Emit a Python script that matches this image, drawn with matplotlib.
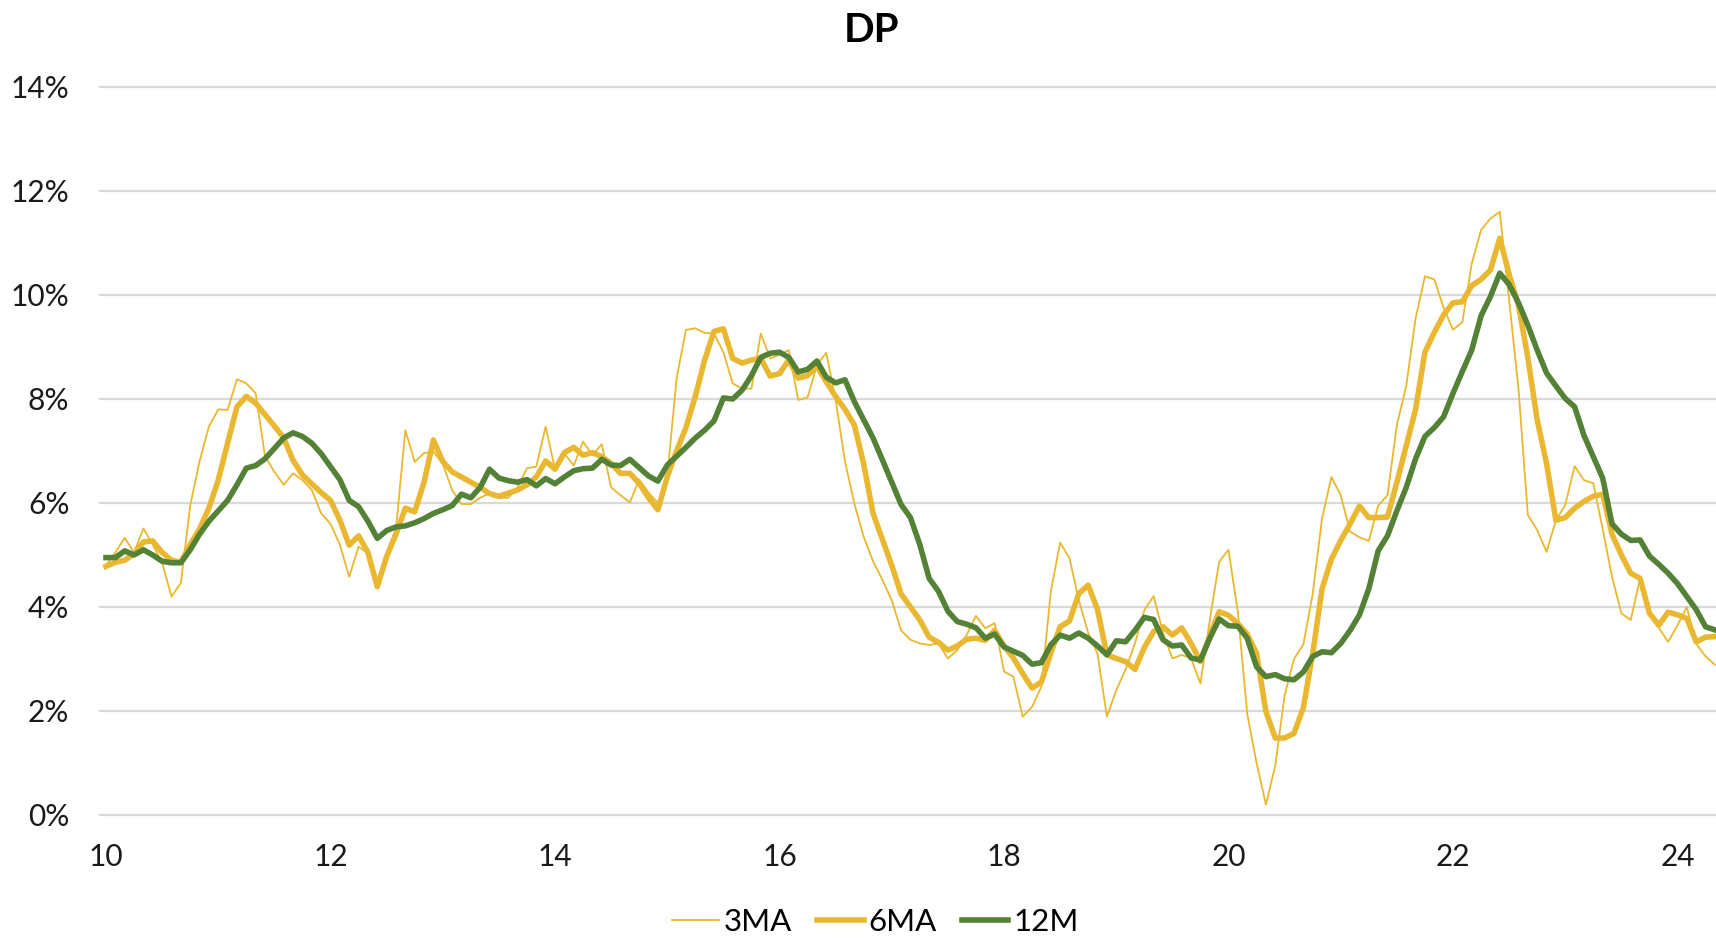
import numpy as np
import matplotlib
matplotlib.use("Agg")
import matplotlib.pyplot as plt

# monthly values, Jan 2010 .. May 2024 (%)
ma3 = [4.8, 5.05, 5.33, 5.05, 5.51, 5.2, 4.85, 4.2, 4.46, 5.95, 6.8, 7.47,
       7.8, 7.79, 8.38, 8.3, 8.11, 6.9, 6.6, 6.35, 6.57, 6.44, 6.25, 5.8,
       5.6, 5.2, 4.58, 5.16, 5.03, 4.45, 5.03, 5.5, 7.4, 6.79, 6.96, 6.99,
       6.75, 6.25, 5.98, 5.98, 6.1, 6.19, 6.1, 6.1, 6.3, 6.67, 6.7, 7.47,
       6.65, 6.95, 6.72, 7.18, 6.92, 7.13, 6.3, 6.15, 6.01, 6.45, 6.2, 6.0,
       6.5, 8.4, 9.33, 9.36, 9.27, 9.26, 8.9, 8.3, 8.2, 8.2, 9.26, 8.78,
       8.85, 8.94, 7.98, 8.03, 8.65, 8.89, 7.98, 6.8, 5.99, 5.35, 4.88, 4.52,
       4.13, 3.55, 3.37, 3.3, 3.27, 3.3, 3.01, 3.17, 3.46, 3.83, 3.59, 3.69,
       2.76, 2.66, 1.89, 2.08, 2.47, 4.29, 5.24, 4.94, 4.13, 3.5, 3.1, 1.89,
       2.4, 2.8, 3.3, 3.94, 4.21, 3.5, 3.01, 3.08, 3.01, 2.53, 3.75, 4.87,
       5.1, 3.9, 1.95, 1.0, 0.2, 0.95, 2.3, 3.0, 3.28, 4.25, 5.7, 6.5,
       6.15, 5.45, 5.34, 5.27, 5.95, 6.15, 7.5, 8.25, 9.55, 10.36, 10.3, 9.75,
       9.33, 9.48, 10.6, 11.25, 11.47, 11.6, 9.9, 8.2, 5.77, 5.48, 5.06, 5.67,
       5.96, 6.71, 6.44, 6.38, 5.5, 4.58, 3.88, 3.75, 4.55, 3.9, 3.6, 3.33,
       3.65, 4.0, 3.29, 3.05, 2.89]

ma6 = [4.78, 4.86, 4.9, 5.02, 5.25, 5.27, 5.05, 4.9, 4.86, 5.2, 5.5, 5.9,
       6.44, 7.15, 7.85, 8.05, 7.92, 7.7, 7.48, 7.25, 6.82, 6.54, 6.37, 6.2,
       6.05, 5.67, 5.19, 5.37, 5.05, 4.39, 4.97, 5.4, 5.9, 5.83, 6.4, 7.21,
       6.8, 6.6, 6.5, 6.4, 6.3, 6.18, 6.13, 6.19, 6.25, 6.35, 6.5, 6.81,
       6.65, 6.97, 7.07, 6.92, 6.97, 6.89, 6.76, 6.57, 6.57, 6.38, 6.1, 5.87,
       6.5, 7.0, 7.45, 8.05, 8.75, 9.3, 9.35, 8.78, 8.69, 8.75, 8.78, 8.44,
       8.49, 8.75, 8.4, 8.45, 8.63, 8.33, 8.05, 7.8, 7.5, 6.75, 5.8, 5.3,
       4.8, 4.25, 4.0, 3.75, 3.42, 3.32, 3.17, 3.25, 3.38, 3.4, 3.36, 3.55,
       3.25, 3.02, 2.72, 2.44, 2.56, 3.11, 3.62, 3.73, 4.26, 4.42, 3.95, 3.08,
       3.01, 2.95, 2.8, 3.22, 3.53, 3.62, 3.46, 3.6, 3.3, 2.95, 3.45, 3.91,
       3.84, 3.68, 3.48, 3.11, 1.99, 1.48, 1.48, 1.57, 2.06, 3.1, 4.35, 4.92,
       5.28, 5.6, 5.94, 5.72, 5.72, 5.73, 6.4, 7.1, 7.8, 8.9, 9.28, 9.62,
       9.85, 9.87, 10.18, 10.3, 10.48, 11.09, 10.4, 9.8, 8.8, 7.6, 6.76, 5.67,
       5.72, 5.9, 6.03, 6.13, 6.17, 5.4, 5.0, 4.65, 4.55, 3.88, 3.65, 3.9,
       3.85, 3.78, 3.33, 3.42, 3.43]

m12 = [4.95, 4.95, 5.08, 5.0, 5.1, 5.0, 4.88, 4.85, 4.85, 5.1, 5.4, 5.65,
       5.85, 6.05, 6.35, 6.67, 6.72, 6.85, 7.05, 7.25, 7.35, 7.28, 7.15, 6.95,
       6.7, 6.45, 6.05, 5.93, 5.65, 5.32, 5.47, 5.54, 5.56, 5.62, 5.7, 5.8,
       5.87, 5.95, 6.17, 6.1, 6.3, 6.65, 6.48, 6.43, 6.4, 6.45, 6.33, 6.47,
       6.37, 6.5, 6.62, 6.66, 6.67, 6.84, 6.73, 6.72, 6.84, 6.68, 6.52, 6.42,
       6.73, 6.9, 7.07, 7.25, 7.4, 7.58, 8.02, 8.0, 8.17, 8.45, 8.8, 8.88,
       8.9, 8.8, 8.52, 8.57, 8.73, 8.42, 8.31, 8.37, 7.95, 7.6, 7.25, 6.83,
       6.4, 5.97, 5.72, 5.2, 4.55, 4.3, 3.92, 3.72, 3.67, 3.6, 3.4, 3.48,
       3.23, 3.15, 3.07, 2.9, 2.93, 3.27, 3.46, 3.4, 3.5, 3.4, 3.25, 3.08,
       3.35, 3.33, 3.55, 3.8, 3.76, 3.37, 3.25, 3.27, 3.02, 2.98, 3.4, 3.77,
       3.64, 3.63, 3.4, 2.85, 2.66, 2.7, 2.62, 2.6, 2.75, 3.05, 3.14, 3.12,
       3.3, 3.55, 3.85, 4.35, 5.08, 5.37, 5.85, 6.3, 6.85, 7.28, 7.45, 7.66,
       8.11, 8.53, 8.94, 9.6, 9.97, 10.42, 10.2, 9.85, 9.42, 8.94, 8.5, 8.25,
       8.01, 7.85, 7.3, 6.89, 6.48, 5.6, 5.4, 5.28, 5.29, 4.98, 4.82, 4.65,
       4.45, 4.2, 3.95, 3.62, 3.56]

x_ticks = [10, 12, 14, 16, 18, 20, 22, 24]
y_ticks = [0, 2, 4, 6, 8, 10, 12, 14]

yellow = "#E9B730"
green = "#538135"

plt.rcParams["font.family"] = ["Lato", "DejaVu Sans"]

t = 10 + np.arange(len(m12)) / 12.0

fig = plt.figure(figsize=(17.16, 9.4), dpi=100)
ax = fig.add_axes([100 / 1716, 125 / 940, 1616 / 1716, 728 / 940])

ax.plot(t, ma3, color=yellow, lw=1.3, label="3MA")
ax.plot(t, ma6, color=yellow, lw=4.0, label="6MA")
ax.plot(t, m12, color=green, lw=4.0, label="12M")

ax.set_xlim(10 - 6 / 112.25, 10 + 1610 / 112.25)
ax.set_ylim(0, 14)
ax.set_xticks(x_ticks)
ax.set_xticklabels([str(v) for v in x_ticks])
ax.set_yticks(y_ticks)
ax.set_yticklabels(["%d%%" % v for v in y_ticks])

# horizontal gridlines only, Excel style
for v in y_ticks:
    ax.axhline(v, color="#D9D9D9", lw=1.6, zorder=0, clip_on=False)

for s in ax.spines.values():
    s.set_visible(False)
ax.tick_params(axis="both", length=0, labelsize=21.5, colors="#1a1a1a")
ax.tick_params(axis="x", pad=20)
ax.tick_params(axis="y", pad=22)

fig.text(0.508, 0.968, "DP", ha="center", va="center",
         fontsize=29, fontweight="bold")

fig.legend(loc="center", bbox_to_anchor=(0.51, 0.019), ncol=3, frameon=False,
           fontsize=22.5, handlelength=1.5, handletextpad=0.15, columnspacing=0.8)

fig.savefig("out.png", dpi=100)
